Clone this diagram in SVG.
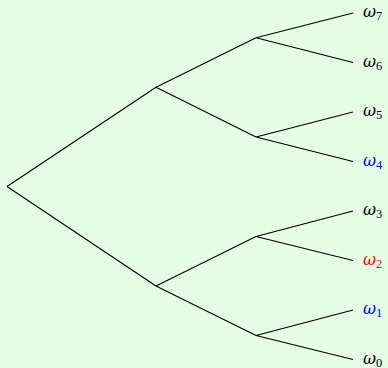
<svg xmlns="http://www.w3.org/2000/svg" width="388" height="368" viewBox="0 0 388 368">
<style>
.e{stroke:#000;stroke-width:1.1;fill:none}
.l{font-family:"DejaVu Serif","Liberation Serif",serif;font-size:16px;fill:#000}
.w{font-style:italic}
.s{font-family:"Liberation Serif",serif;font-size:12.5px}
.blue{fill:#0000ff}
.red{fill:#ff0000}
</style>
<rect width="388" height="368" fill="#e6fde6"/>
<g id="connectors">
<path class="e" d="M7,186.5 L156,87.2 M7,186.5 L156,286"/>
<path class="e" d="M156,87.2 L256,37.8 M156,87.2 L256,137"/>
<path class="e" d="M156,286 L256,236.5 M156,286 L256,335.5"/>
<path class="e" d="M256,37.8 L353,13 M256,37.8 L353,62.5"/>
<path class="e" d="M256,137 L353,112 M256,137 L353,161.5"/>
<path class="e" d="M256,236.5 L353,211 M256,236.5 L353,260.5"/>
<path class="e" d="M256,335.5 L353,310 M256,335.5 L353,359.5"/>
</g>
<g id="w7"><text class="l" x="363" y="17"><tspan class="w">ω</tspan><tspan class="s" dy="3">7</tspan></text></g>
<g id="w6"><text class="l" x="363" y="66.5"><tspan class="w">ω</tspan><tspan class="s" dy="3">6</tspan></text></g>
<g id="w5"><text class="l" x="363" y="116"><tspan class="w">ω</tspan><tspan class="s" dy="3">5</tspan></text></g>
<g id="w4"><text class="l blue" x="363" y="165.5"><tspan class="w">ω</tspan><tspan class="s" dy="3">4</tspan></text></g>
<g id="w3"><text class="l" x="363" y="215"><tspan class="w">ω</tspan><tspan class="s" dy="3">3</tspan></text></g>
<g id="w2"><text class="l red" x="363" y="264.5"><tspan class="w">ω</tspan><tspan class="s" dy="3">2</tspan></text></g>
<g id="w1"><text class="l blue" x="363" y="314"><tspan class="w">ω</tspan><tspan class="s" dy="3">1</tspan></text></g>
<g id="w0"><text class="l" x="363" y="363.5"><tspan class="w">ω</tspan><tspan class="s" dy="3">0</tspan></text></g>
</svg>
